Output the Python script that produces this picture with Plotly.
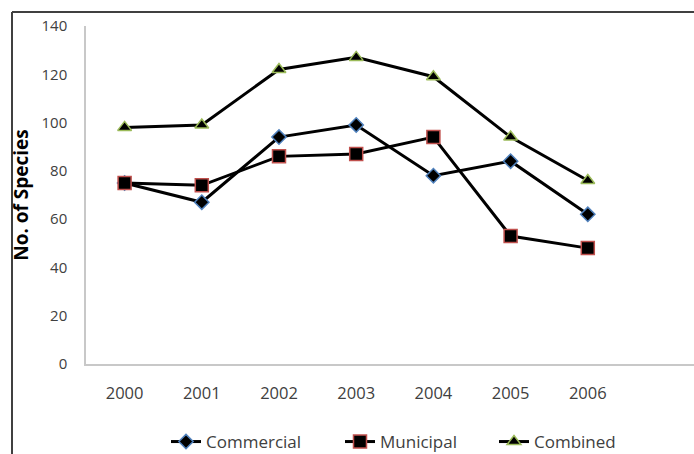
import plotly.graph_objects as go

years = ["2000", "2001", "2002", "2003", "2004", "2005", "2006"]
commercial = [75, 67, 94, 99, 78, 84, 62]
municipal = [75, 74, 86, 87, 94, 53, 48]
combined = [98, 99, 122, 127, 119, 94, 76]
y_ticks = [0, 20, 40, 60, 80, 100, 120, 140]

W, H = 694, 454
L, R, T, B = 86, 0, 26, 90
plot_w = W - L - R
plot_h = H - T - B

fig = go.Figure()

# name, values, marker symbol, marker size, marker edge colour, legend id, legend left px
series = [
    ("Commercial", commercial, "diamond", 11, "#4f81bd", "legend", 166),
    ("Municipal", municipal, "square", 13, "#c0504d", "legend2", 340),
    ("Combined", combined, "triangle-up", 12, "#9bbb59", "legend3", 494),
]
legend_y = -(442 - (H - B)) / plot_h
font = "Open Sans, Liberation Sans, sans-serif"
legend_defs = {}
for name, vals, sym, size, edge, leg, left_px in series:
    fig.add_trace(go.Scatter(
        x=list(range(len(years))), y=vals, name=name, mode="lines+markers",
        legend=leg,
        line=dict(color="black", width=3),
        marker=dict(symbol=sym, size=size, color="black",
                    line=dict(color=edge, width=1.5)),
    ))
    legend_defs[leg] = dict(
        orientation="h", x=(left_px - L) / plot_w, xanchor="left",
        y=legend_y, yanchor="middle", bgcolor="rgba(0,0,0,0)",
        font=dict(family=font, size=17, color="#404040"),
        itemwidth=30, tracegroupgap=0,
    )

# chart frame: top and left edges
top_y = 1 + (T - 12) / plot_h
left_x = -(L - 12) / plot_w
fig.add_shape(type="line", xref="paper", yref="paper", x0=left_x, x1=1.01,
              y0=top_y, y1=top_y, line=dict(color="#404040", width=2))
fig.add_shape(type="line", xref="paper", yref="paper", x0=left_x, x1=left_x,
              y0=top_y, y1=-B / plot_h - 0.05, line=dict(color="#404040", width=2))

fig.update_layout(
    width=W, height=H,
    margin=dict(l=L, r=R, t=T, b=B, autoexpand=False),
    paper_bgcolor="white", plot_bgcolor="white",
    font=dict(family=font, size=16, color="#404040"),
    showlegend=True,
    **legend_defs,
    xaxis=dict(
        range=[-0.5, plot_w / 77.2 - 0.5],
        tickmode="array", tickvals=list(range(len(years))), ticktext=years,
        tickangle=0,
        showgrid=False, zeroline=False, showline=True,
        linecolor="#c8c8c8", linewidth=1.5, ticks="outside", ticklen=13,
        tickcolor="rgba(0,0,0,0)",
        tickfont=dict(size=16.5, color="#404040"),
    ),
    yaxis=dict(
        range=[0, 140], tickmode="array", tickvals=y_ticks,
        showgrid=False, zeroline=False, showline=True,
        linecolor="#c8c8c8", linewidth=1.5, ticks="outside",
        ticklen=14, tickcolor="rgba(0,0,0,0)",
        tickfont=dict(size=15, color="#404040"),
        title=dict(text="<b>No. of Species</b>", standoff=8,
                   font=dict(size=19, color="black")),
    ),
)

fig.write_html("out.html")
